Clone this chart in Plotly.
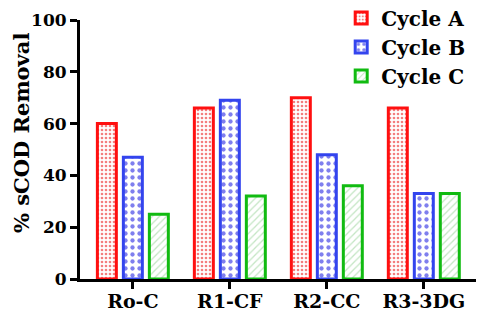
import plotly.graph_objects as go

categories = ["Ro-C", "R1-CF", "R2-CC", "R3-3DG"]
cycle_a = [60, 66, 70, 66]
cycle_b = [47, 69, 48, 33]
cycle_c = [25, 32, 36, 33]
y_ticks = [0, 20, 40, 60, 80, 100]

FONT = "DejaVu Serif"

series = [
    ("Cycle A", cycle_a, "#ff1010", dict(shape=".", fgcolor="#e80000", bgcolor="white", size=4, solidity=0.35)),
    ("Cycle B", cycle_b, "#3344ee", dict(shape=".", fgcolor="#0000dd", bgcolor="white", size=7, solidity=0.3)),
    ("Cycle C", cycle_c, "#11bb11", dict(shape="/", fgcolor="#88cc88", bgcolor="white", size=5, solidity=0.25)),
]

fig = go.Figure()
for name, vals, col, pat in series:
    fig.add_trace(go.Bar(
        name=name, x=categories, y=vals, legendgroup=name,
        marker=dict(color="white", line=dict(color=col, width=3), pattern=pat),
    ))

fig.add_annotation(
    text="% sCOD Removal", textangle=-90, xref="paper", yref="paper",
    x=-0.144, y=0.564, xanchor="center", yanchor="middle", showarrow=False,
    font=dict(family=FONT, size=21, color="black", weight="bold"),
)

fig.update_layout(
    width=476, height=308,
    margin=dict(l=72, r=2, t=12, b=37, autoexpand=False),
    plot_bgcolor="white", paper_bgcolor="white",
    barmode="group", bargap=0.196, bargroupgap=0.27,
    font=dict(family=FONT, color="black"),
    showlegend=True,
    legend=dict(
        xref="container", yref="paper",
        x=0.70, y=1.083, xanchor="left", yanchor="top",
        font=dict(family=FONT, size=20, color="black", weight="bold"),
        bgcolor="rgba(0,0,0,0)", tracegroupgap=0, itemwidth=30,
    ),
    xaxis=dict(
        range=[-0.545, 3.6], showline=True, linecolor="black", linewidth=3,
        ticks="outside", ticklen=7, tickwidth=3, tickcolor="black",
        tickfont=dict(family=FONT, size=19, color="black", weight="bold"),
        ticklabelstandoff=-4,
        showgrid=False, zeroline=False,
    ),
    yaxis=dict(
        range=[0, 100], tickvals=y_ticks, showline=True, linecolor="black", linewidth=3,
        ticks="outside", ticklen=7, tickwidth=3, tickcolor="black",
        tickfont=dict(family=FONT, size=17, color="black", weight="bold"),
        showgrid=False, zeroline=False,
    ),
)

fig.write_html("out.html")
